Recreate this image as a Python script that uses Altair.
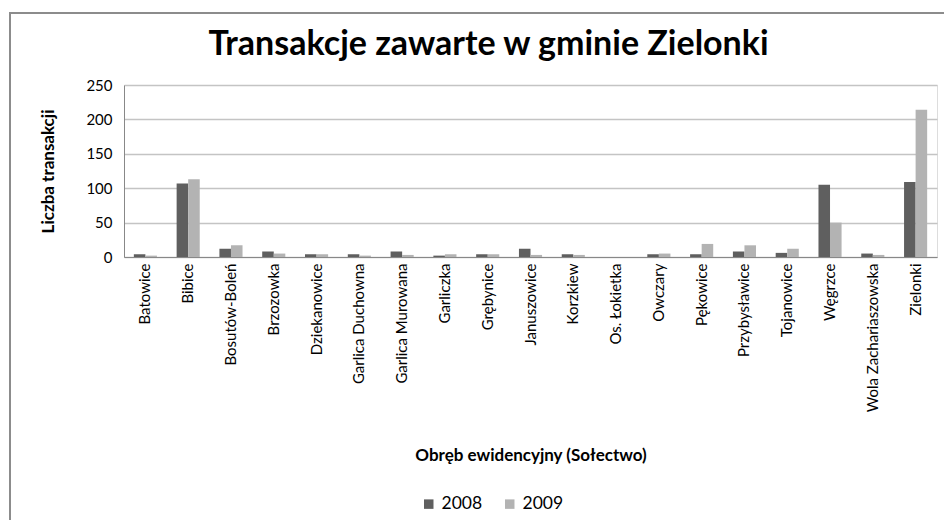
import altair as alt
import pandas as pd

categories = ["Batowice", "Bibice", "Bosutów-Boleń", "Brzozowka", "Dziekanowice",
              "Garlica Duchowna", "Garlica Murowana", "Garliczka", "Grębynice",
              "Januszowice", "Korzkiew", "Os. Łokietka", "Owczary", "Pękowice",
              "Przybysławice", "Tojanowice", "Węgrzce", "Wola Zachariaszowska", "Zielonki"]
v2008 = [4, 107, 12, 8, 4, 4, 8, 2, 4, 12, 4, 0, 4, 4, 8, 6, 105, 5, 109]
v2009 = [2, 113, 17, 5, 4, 2, 3, 4, 4, 3, 3, 0, 5, 19, 17, 12, 50, 3, 214]
years = ["2008", "2009"]
colors = ["#5f5f5f", "#b3b3b3"]

rows = []
for c, a, b in zip(categories, v2008, v2009):
    rows.append({"cat": c, "year": years[0], "val": a})
    rows.append({"cat": c, "year": years[1], "val": b})
df = pd.DataFrame(rows)

FONT = "Lato"

frame = alt.Chart(pd.DataFrame({"a": [0]})).mark_rect(
    fill=None, stroke="#8c8c8c", strokeWidth=2
).encode(x=alt.value(-114), x2=alt.value(900), y=alt.value(-72), y2=alt.value(500))

bars = alt.Chart(df).mark_bar().encode(
    x=alt.X("cat:N", sort=categories, scale=alt.Scale(paddingInner=0.46, paddingOuter=0.23),
            axis=alt.Axis(title="Obręb ewidencyjny (Sołectwo)", labelAngle=270, labelAlign="right",
                          labelBaseline="middle", labelFontSize=15, labelFont=FONT, labelColor="#000",
                          labelPadding=6, ticks=False, domainColor="#888", titleFont=FONT,
                          titleFontSize=17, titleFontWeight="bold", titleColor="#000", titlePadding=36)),
    xOffset=alt.XOffset("year:N", sort=years),
    y=alt.Y("val:Q", scale=alt.Scale(domain=[0, 250]),
            axis=alt.Axis(title="Liczba transakcji", values=[0, 50, 100, 150, 200, 250],
                          labelFontSize=15, labelFont=FONT, labelColor="#000", ticks=False,
                          labelPadding=12, domainColor="#888", gridColor="#c4c4c4", gridWidth=1.5,
                          titleFont=FONT, titleFontSize=17, titleFontWeight="bold",
                          titleColor="#000", titlePadding=28)),
    color=alt.Color("year:N", sort=years, scale=alt.Scale(domain=years, range=colors),
                    legend=alt.Legend(title=None, orient="none", direction="horizontal",
                                      legendX=296, legendY=410, symbolType="square", symbolSize=90,
                                      symbolStrokeWidth=0, labelFont=FONT, labelFontSize=17.5,
                                      labelColor="#000", columnPadding=18)),
)

chart = alt.layer(frame, bars).properties(
    width=813, height=172,
    title=alt.Title("Transakcje zawarte w gminie Zielonki", font=FONT, fontSize=34,
                    fontWeight="bold", color="#000", offset=-50, dx=-42, frame="group"),
    autosize=alt.AutoSizeParams(type="none"),
    padding={"left": 124, "top": 85, "right": 7, "bottom": 263},
).configure_view(stroke=None).configure(background="white")

chart.save("out.html", embed_options={"renderer": "svg", "actions": False})
